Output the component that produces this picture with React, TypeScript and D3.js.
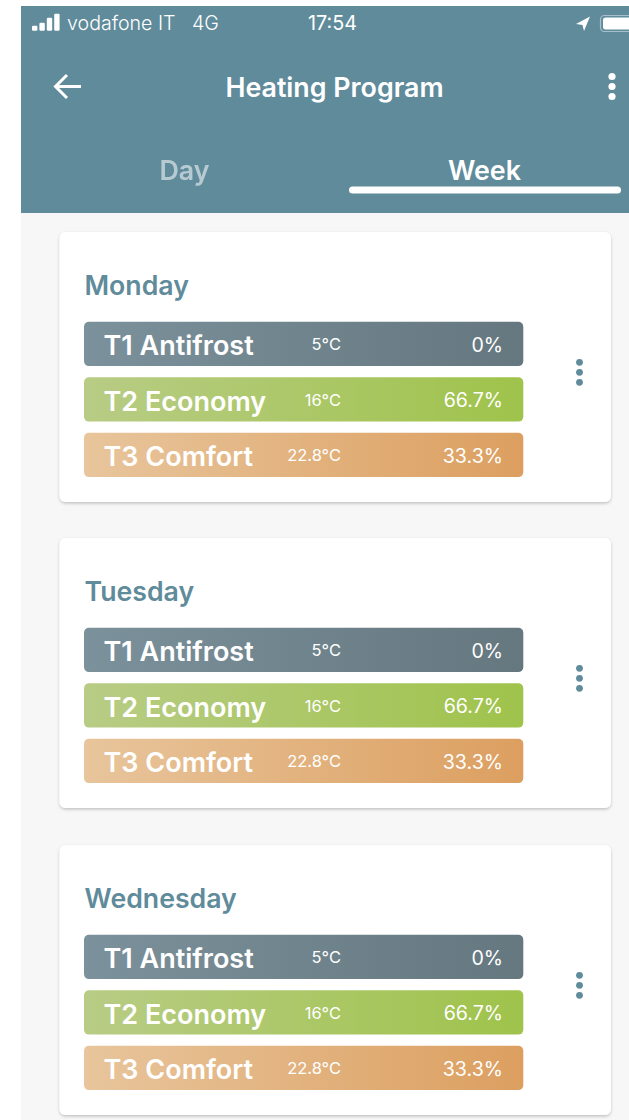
import React from "react";
import * as d3 from "d3";

const days = ["Monday", "Tuesday", "Wednesday"];
const tiers = ["T1 Antifrost", "T2 Economy", "T3 Comfort"];
const temps = ["5°C", "16°C", "22.8°C"];
const shares = [0, 66.7, 33.3];
const gradientStops = [
  ["#7b919b", "#65777f"],
  ["#b8cc85", "#9fc34b"],
  ["#e8c59c", "#dc9f60"],
];
const tabs = ["Day", "Week"];

const TEAL = "#5f8b9b";
const FONT = "Inter, sans-serif";

const cardY = d3.scaleOrdinal<string, number>().domain(days).range([232, 538, 845]);
const rowY = d3.scaleBand<string>().domain(tiers).range([89.7, 245.1]).paddingInner(0.2).paddingOuter(0);
const dotY = d3.scalePoint<number>().domain([0, 1, 2]).range([130.3, 150.3]);
const tabX = d3.scaleOrdinal<string, number>().domain(tabs).range([184.5, 484.5]);

export default function App() {
  return (
    <svg
      width={629}
      height={1120}
      style={{ position: "absolute", left: 0, top: 0, display: "block" }}
      fontFamily={FONT}
    >
      <defs>
        {gradientStops.map((g, i) => (
          <linearGradient key={i} id={`g${i}`} x1="0" x2="1" y1="0" y2="0">
            <stop offset="0" stopColor={g[0]} />
            <stop offset="1" stopColor={g[1]} />
          </linearGradient>
        ))}
        <filter id="shadow" x="-5%" y="-5%" width="110%" height="110%">
          <feDropShadow dx="0" dy="1.5" stdDeviation="1.5" floodColor="#000" floodOpacity="0.22" />
        </filter>
      </defs>
      <rect x={0} y={0} width={629} height={1120} fill="#fff" />
      <rect x={21} y={213} width={608} height={907} fill="#f7f7f7" />
      <rect x={21} y={6} width={608} height={207} fill={TEAL} />

      {/* status bar */}
      {[0, 1, 2, 3].map((i) => {
        const h = [5, 8, 13, 17][i];
        return <rect key={i} x={32 + i * 7.4} y={30.7 - h} width={5.4} height={h} rx={1.2} fill="#fff" />;
      })}
      <text x={67} y={30} fontSize={19.6} fill="#fff" fontWeight={300}>vodafone IT</text>
      <text x={192} y={30} fontSize={19.6} fill="#fff" fontWeight={300}>4G</text>
      <text x={308} y={30} fontSize={19.8} fill="#fff" fontWeight={400}>17:54</text>
      <path d="M576,24 L590,16.5 L584,31 L582.5,25 Z" fill="#fff" />
      <rect x={600.5} y={15.5} width={40} height={16} rx={4} fill="none" stroke="#fff" strokeOpacity={0.45} strokeWidth={1.2} />
      <rect x={603} y={17.5} width={40} height={12} rx={2.5} fill="#fff" />

      {/* app bar */}
      <path d="M81,86.5 H56 M67,75 L55.5,86.5 L67,98" fill="none" stroke="#fff" strokeWidth={3} />
      <text x={334.5} y={97} textAnchor="middle" fontSize={26.8} fontWeight={600} fill="#fff">Heating Program</text>
      {[0, 1, 2].map((i) => (
        <circle key={i} cx={612} cy={76.5 + i * 10} r={3.6} fill="#fff" />
      ))}

      {/* tabs */}
      {tabs.map((t, i) => (
        <text key={t} x={tabX(t)} y={180} textAnchor="middle" fontSize={26.8} fontWeight={600} fill="#fff" opacity={i === 0 ? 0.55 : 1}>{t}</text>
      ))}
      <rect x={349} y={186.5} width={272} height={7} rx={3.5} fill="#fff" />

      {/* cards */}
      {days.map((day) => {
        const y0 = cardY(day);
        return (
          <g key={day} transform={`translate(0,${y0})`}>
            <rect x={59.5} y={0} width={551.5} height={270} rx={6} fill="#fff" filter="url(#shadow)" />
            <text x={84.5} y={63} fontSize={26.7} fontWeight={600} fill={TEAL}>{day}</text>
            {tiers.map((t, i) => {
              const y = rowY(t)!;
              const h = rowY.bandwidth();
              return (
                <g key={t}>
                  <rect x={84} y={y} width={439.3} height={h} rx={5} fill={`url(#g${i})`} />
                  <text x={103.5} y={y + 33.3} fontSize={27} fontWeight={600} fill="#fff">{t}</text>
                  <text x={341} y={y + 28.7} textAnchor="end" fontSize={16.5} fill="#fff">{temps[i]}</text>
                  <text x={503} y={y + 30} textAnchor="end" fontSize={19.6} fill="#fff">{`${shares[i]}%`}</text>
                </g>
              );
            })}
            {[0, 1, 2].map((d) => (
              <circle key={d} cx={579.5} cy={dotY(d)} r={3.4} fill={TEAL} />
            ))}
          </g>
        );
      })}
    </svg>
  );
}
